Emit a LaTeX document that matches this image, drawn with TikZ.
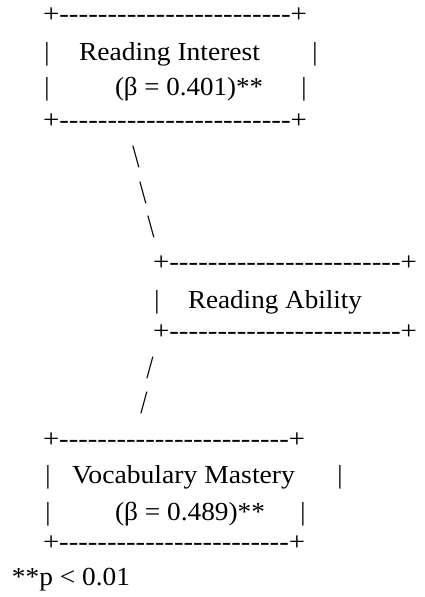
\documentclass[tikz,border=0pt]{standalone}
\usepackage{fontspec}
\newfontfamily\rf{Liberation Serif}
\newcommand{\fitw}[2]{\resizebox{#1pt}{\height}{#2}}
\newcommand{\dashrow}{+------------------------+}
\newcommand{\tallmark}[1]{\scalebox{1}[1.25]{#1}}
\tikzset{
  txt/.style={inner sep=0pt, outer sep=0pt, anchor=base west, font=\rf\fontsize{26}{30}\selectfont},
  bar/.style={inner sep=0pt, outer sep=0pt, anchor=base, font=\rf\fontsize{26}{30}\selectfont},
  slashmark/.style={inner sep=0pt, outer sep=0pt, anchor=center, font=\rf\fontsize{26}{30}\selectfont}
}
\begin{document}
\begin{tikzpicture}[x=1pt,y=-1pt]
\useasboundingbox (0,0) rectangle (425,597);
% top box: Reading Interest
\node[txt] (t1) at (43,22) {\fitw{264}{\dashrow}};
\node[bar] (t2l) at (47,60) {|};
\node[txt] (t2) at (79,60) {\fitw{181}{Reading Interest}};
\node[bar] (t2r) at (315,60) {|};
\node[bar] (t3l) at (47,95) {|};
\node[txt] (t3) at (115,95) {\fitw{148}{(β = 0.401)**}};
\node[bar] (t3r) at (304,95) {|};
\node[txt] (t4) at (43,128) {\fitw{264}{\dashrow}};
% connector Reading Interest -> Reading Ability
\node[slashmark] (s1) at (136,157) {\tallmark{\textbackslash}};
\node[slashmark] (s2) at (143,193) {\tallmark{\textbackslash}};
\node[slashmark] (s3) at (151,227) {\tallmark{\textbackslash}};
% middle box: Reading Ability
\node[txt] (m1) at (153,270) {\fitw{264}{\dashrow}};
\node[bar] (m2l) at (157,308) {|};
\node[txt] (m2) at (188,308) {\fitw{174}{Reading Ability}};
\node[txt] (m3) at (153,339) {\fitw{264}{\dashrow}};
% connector Reading Ability -> Vocabulary Mastery
\node[slashmark] (s4) at (150,368) {\tallmark{/}};
\node[slashmark] (s5) at (144,403) {\tallmark{/}};
% bottom box: Vocabulary Mastery
\node[txt] (b1) at (43,447) {\fitw{262}{\dashrow}};
\node[bar] (b2l) at (48,483) {|};
\node[txt] (b2) at (72,483) {\fitw{223}{Vocabulary Mastery}};
\node[bar] (b2r) at (340,483) {|};
\node[bar] (b3l) at (48,520) {|};
\node[txt] (b3) at (115,520) {\fitw{150}{(β = 0.489)**}};
\node[bar] (b3r) at (303,520) {|};
\node[txt] (b4) at (43,550) {\fitw{262}{\dashrow}};
% footnote
\node[txt] (fn) at (12,585) {\fitw{118}{**p < 0.01}};
\end{tikzpicture}
\end{document}
